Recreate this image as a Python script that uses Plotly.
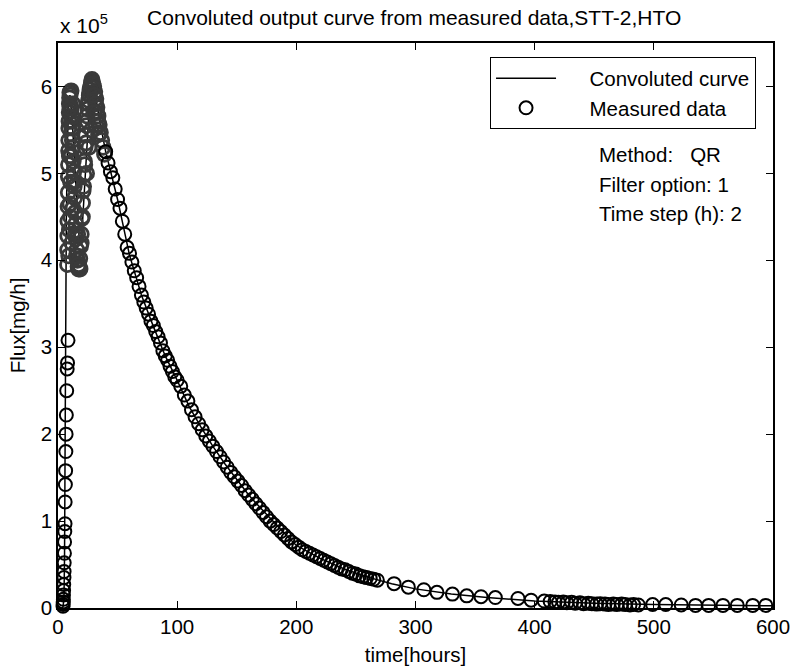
import plotly.graph_objects as go

# ---------------- data (flux in units of 1e5 mg/h) ----------------
# convoluted (model) curve
t_line = [0, 4, 5, 5.5, 6, 6.5, 7, 8, 9, 10, 12, 14, 16, 18, 20, 22, 24, 26, 28, 30,
          32, 35, 40, 50, 60, 70, 80, 90, 100, 110, 120, 130, 140, 150, 160, 170, 180,
          190, 200, 220, 240, 260, 280, 300, 330, 360, 400, 450, 500, 550, 600]
v_line = [0, 0, 0.1, 0.6, 2.0, 3.5, 4.5, 5.4, 5.8, 5.9, 5.6, 5.1, 4.6, 4.2, 4.3, 4.8,
          5.3, 5.7, 5.95, 6.0, 5.85, 5.6, 5.25, 4.7, 4.06, 3.6, 3.24, 2.9, 2.62, 2.32,
          2.08, 1.86, 1.66, 1.48, 1.3, 1.15, 1.0, 0.86, 0.72, 0.57, 0.45, 0.355, 0.28,
          0.22, 0.16, 0.12, 0.08, 0.055, 0.04, 0.03, 0.025]

# measured data: initial rise
t_rise = [4.2, 4.3, 4.4, 4.5, 4.6, 4.7, 4.8, 5.0, 5.1, 5.2, 5.4, 5.5, 5.7, 5.9, 6.0,
          6.2, 6.4, 6.6, 6.8, 7.0, 7.3, 7.7, 8.0, 8.4]
v_rise = [0.02, 0.04, 0.07, 0.1, 0.15, 0.2, 0.27, 0.35, 0.42, 0.52, 0.63, 0.76, 0.88,
          0.97, 1.22, 1.42, 1.58, 1.8, 2.0, 2.22, 2.5, 2.75, 2.82, 3.08]

# measured data: dense double-peak cluster
t_peak = [8.0, 8.1, 8.2, 8.3, 8.4, 8.6, 8.7, 8.8, 8.9, 9.0, 9.1, 9.2, 9.4, 9.5, 9.7, 9.9,
          10.2, 10.6, 10.9, 11.3, 11.7, 12.0, 12.4, 12.8, 13.2, 13.6, 14.0, 14.4, 14.9,
          15.3, 15.8, 16.3, 16.8, 17.2,
          17.7, 18.3, 18.9, 19.5, 20.0, 20.6, 21.1, 21.7, 22.2, 22.8, 23.3, 23.9, 24.4,
          25.0, 25.6, 26.2, 26.8, 27.4, 28.0, 28.6, 29.2,
          30.0, 30.9, 31.8, 32.7, 33.6, 34.6, 35.6, 36.7, 37.8, 39.0,
          9.0, 9.5, 10.0, 10.5, 11.0, 11.5, 12.0, 12.5, 11.0, 10.0, 9.5, 10.5, 11.5,
          12.5, 13.5, 14.5, 15.5, 16.5, 17.5, 18.5,
          19.5, 20.5, 21.5, 22.5, 23.5, 24.5, 25.5, 26.5, 27.5, 28.5, 29.5, 30.5, 31.5,
          32.5, 33.5, 24.0, 26.0, 28.0, 30.0, 32.0, 34.0]
v_peak = [3.95, 4.12, 4.28, 4.45, 4.62, 4.78, 4.96, 5.1, 5.26, 5.38, 5.52, 5.6, 5.7,
          5.8, 5.87, 5.93,
          5.9, 5.78, 5.72, 5.6, 5.52, 5.38, 5.3, 5.14, 5.02, 4.85, 4.72, 4.55, 4.42,
          4.25, 4.12, 4.0, 3.93, 3.9,
          3.92, 4.02, 4.16, 4.3, 4.48, 4.66, 4.8, 4.98, 5.14, 5.3, 5.44, 5.55, 5.66,
          5.74, 5.84, 5.9, 5.96, 6.0, 6.04, 6.06, 6.03,
          6.0, 5.94, 5.86, 5.76, 5.66, 5.56, 5.47, 5.38, 5.3, 5.22,
          4.05, 4.35, 4.65, 4.9, 5.2, 5.45, 5.65, 5.8, 5.95, 5.75, 5.2, 4.5, 4.2,
          4.6, 4.9, 4.3, 4.05, 4.3, 3.95, 3.9,
          4.2, 4.5, 4.85, 5.1, 5.35, 5.6, 5.8, 5.92, 6.0, 6.08, 5.98, 5.9, 5.8,
          5.7, 5.6, 5.0, 5.3, 5.5, 5.7, 5.55, 5.45]

# measured data: recession limb
t_tail = [40, 42, 44, 46, 48, 50, 52, 54, 56, 58, 60, 62, 64, 66, 68, 70, 72, 74, 76, 78,
          80, 82, 84, 86, 88, 90, 92, 94, 96, 98, 100, 103, 106, 109, 112, 115, 118, 121,
          124, 127, 130, 133, 136, 139, 142, 145, 148, 151, 154, 157, 160, 163, 166, 169,
          172, 175, 178, 181, 184, 187, 190, 193, 196, 199, 202, 205, 208, 211, 214, 217,
          220, 223, 226, 229, 232, 235, 238, 241, 244, 247, 250, 253, 256, 259, 262, 265,
          268, 282, 294, 307, 318, 331, 343, 355, 367, 386, 397, 408,
          413, 417, 420, 424, 427, 431, 434, 438, 441, 445, 448, 452, 455, 459, 462, 466,
          469, 473, 476, 480, 483, 487, 499, 510, 523, 535, 546, 558, 570, 583, 594]
v_tail = [5.25, 5.12, 5.02, 4.95, 4.82, 4.7, 4.6, 4.45, 4.3, 4.15, 4.08, 3.98, 3.88, 3.8,
          3.7, 3.6, 3.52, 3.45, 3.38, 3.3, 3.25, 3.18, 3.12, 3.05, 2.96, 2.9, 2.85, 2.78,
          2.72, 2.66, 2.62, 2.55, 2.45, 2.38, 2.28, 2.2, 2.12, 2.05, 1.98, 1.92, 1.86, 1.8,
          1.74, 1.68, 1.62, 1.56, 1.51, 1.46, 1.41, 1.35, 1.3, 1.25, 1.2, 1.15, 1.1, 1.05,
          1.0, 0.96, 0.92, 0.88, 0.84, 0.8, 0.76, 0.73, 0.7, 0.67, 0.65, 0.63, 0.61, 0.59,
          0.57, 0.55, 0.53, 0.51, 0.49, 0.47, 0.45, 0.44, 0.42, 0.4, 0.39, 0.37, 0.36,
          0.35, 0.34, 0.33, 0.32, 0.28, 0.24, 0.21, 0.18, 0.16, 0.14, 0.13, 0.12, 0.11,
          0.09, 0.08,
          0.075, 0.07, 0.065, 0.07, 0.06, 0.065, 0.055, 0.06, 0.05, 0.055, 0.05, 0.045,
          0.05, 0.045, 0.04, 0.045, 0.04, 0.045, 0.04, 0.035, 0.04, 0.035, 0.04, 0.04,
          0.035, 0.03, 0.03, 0.03, 0.03, 0.03, 0.03]

y_tick_vals = [0, 1, 2, 3, 4, 5, 6]
x_tick_vals = [0, 100, 200, 300, 400, 500, 600]
SCALE = 1e5

info_lines = ["Method:\u00a0\u00a0 QR", "Filter option: 1", "Time step (h): 2"]

FONT = "Liberation Sans, Arial, Helvetica, sans-serif"
FS = 20.5
PAD = "\u00a0" * 5

fig = go.Figure()
fig.add_trace(go.Scatter(
    x=t_line, y=[v * SCALE for v in v_line], mode="lines",
    line=dict(color="black", width=1.5), name=PAD + "Convoluted curve"))
fig.add_trace(go.Scatter(
    x=t_peak, y=[v * SCALE for v in v_peak], mode="markers", showlegend=False,
    marker=dict(symbol="circle-open", size=14, color="#3a3a3a", line=dict(width=2.8)),
    cliponaxis=False))
fig.add_trace(go.Scatter(
    x=t_rise + t_tail, y=[v * SCALE for v in v_rise + v_tail], mode="markers",
    name=PAD + "Measured data",
    marker=dict(symbol="circle-open", size=13, color="black", line=dict(width=2)),
    cliponaxis=False))

for i, txt in enumerate(info_lines):
    fig.add_annotation(x=0.754, y=0.802 - i * 0.052, xref="paper", yref="paper",
                       text=txt, showarrow=False, xanchor="left", yanchor="middle",
                       font=dict(size=FS, color="black", family=FONT))

fig.add_annotation(x=0.0, y=1.034, xref="paper", yref="paper",
                   text="x 10<sup>5</sup>", showarrow=False, xanchor="left",
                   yanchor="middle", font=dict(size=21, color="black", family=FONT))

fig.update_layout(
    width=792, height=669,
    margin=dict(l=58, r=19, t=43, b=61, autoexpand=False),
    paper_bgcolor="white", plot_bgcolor="white",
    font=dict(family=FONT, size=FS, color="black"),
    title=dict(text="Convoluted output curve from measured data,STT-2,HTO",
               x=0.523, xanchor="center", y=1 - 18 / 669, yanchor="middle",
               font=dict(size=21, family=FONT, color="black")),
    showlegend=True,
    legend=dict(x=0.976, y=0.975, xanchor="right", yanchor="top",
                bordercolor="black", borderwidth=1.2, bgcolor="white",
                itemwidth=60, font=dict(size=FS, family=FONT, color="black"),
                tracegroupgap=0),
    xaxis=dict(range=[0, 600], tickvals=x_tick_vals, ticks="inside", ticklen=7,
               tickcolor="black", showline=True, linecolor="black", linewidth=1.5,
               mirror="ticks", showgrid=False, zeroline=False, automargin=False,
               title=dict(text="time[hours]", standoff=10,
                          font=dict(size=FS, family=FONT, color="black"))),
    yaxis=dict(range=[0, 6.5 * SCALE], tickvals=[v * SCALE for v in y_tick_vals],
               ticktext=[str(v) for v in y_tick_vals], ticks="inside", ticklen=7,
               tickcolor="black", showline=True, linecolor="black", linewidth=1.5,
               mirror="ticks", showgrid=False, zeroline=False, automargin=False,
               title=dict(text="Flux[mg/h]", standoff=10,
                          font=dict(size=FS, family=FONT, color="black"))),
)

fig.write_html("out.html")
